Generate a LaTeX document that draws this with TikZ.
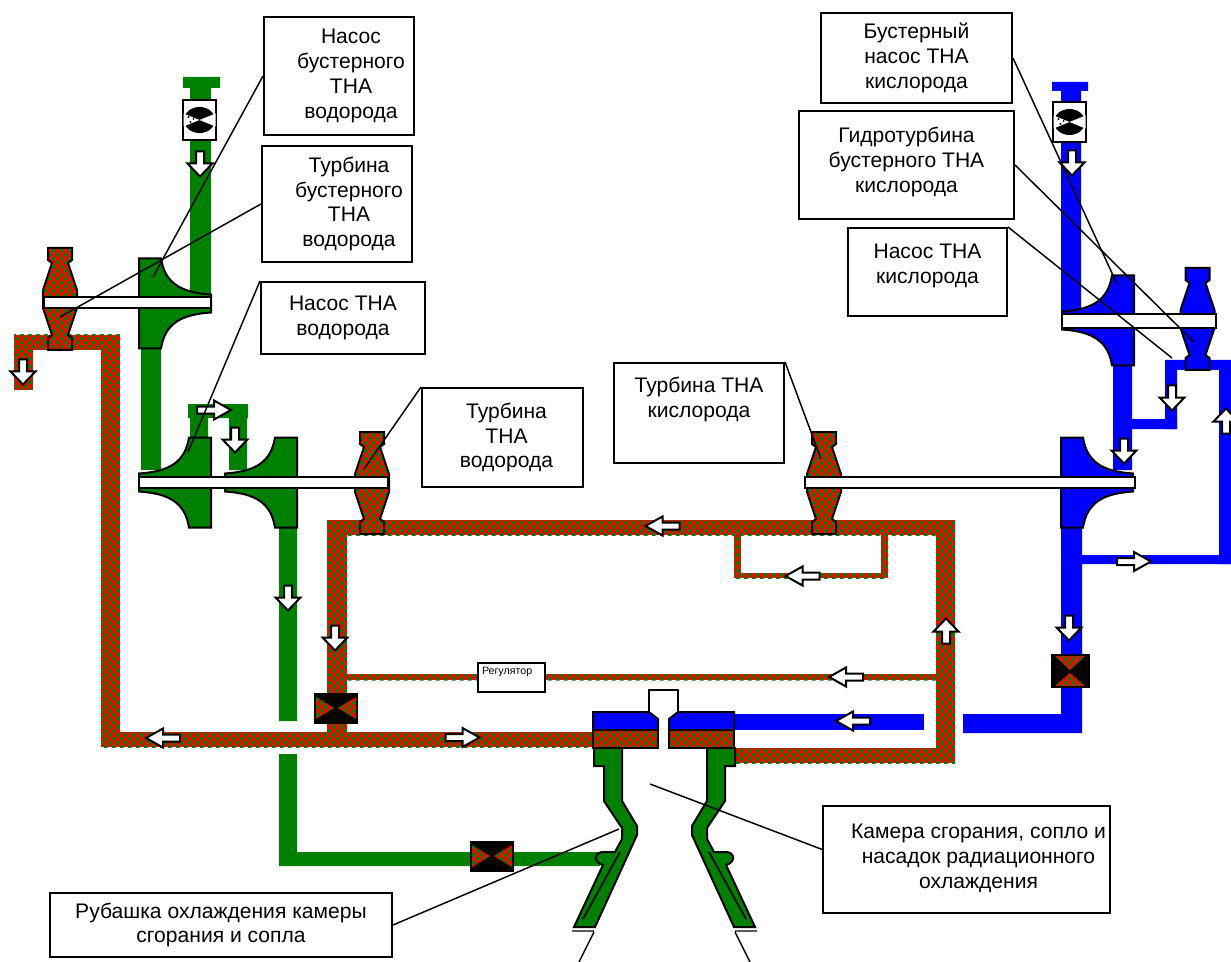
\documentclass[tikz,border=0pt]{standalone}
\usepackage{fontspec}
\setmainfont{Liberation Sans}
\usepackage{xcolor}
\definecolor{fuelgreen}{RGB}{0,128,0}
\definecolor{oxblue}{RGB}{0,0,255}
\definecolor{gasred}{RGB}{255,0,0}
\newcommand{\shiftline}{\hspace*{18pt}}
\newcommand{\nozzlepath}{(-12,0)--(12,0)--(12,12)--(8,15)--(17,42)--(17,60)--(8,87)--(12,90)--(12,102)--(-12,102)--(-12,90)--(-8,87)--(-17,60)--(-17,42)--(-8,15)--(-12,12)--cycle}
\newcommand{\hotgrid}[4]{%
  \fill[gasred] (#1,#2) rectangle (#3,#4);
  \pgfmathtruncatemacro{\mlo}{floor(#1/8)-1}
  \pgfmathtruncatemacro{\mhi}{floor(#3/8)}
  \pgfmathtruncatemacro{\nlo}{floor(#2/8)-1}
  \pgfmathtruncatemacro{\nhi}{floor(#4/8)}
  \fill[fuelgreen] \foreach \m in {\mlo,...,\mhi} {\foreach \n in {\nlo,...,\nhi} {
    (8*\m,8*\n+1) rectangle ++(3.5,3.5) (8*\m+4,8*\n+5) rectangle ++(3.5,3.5)}};
}
\newcommand{\hotbox}[4]{\begin{scope}\clip (#1,#2) rectangle (#3,#4); \hotgrid{#1}{#2}{#3}{#4}\end{scope}}

\begin{document}
\begin{tikzpicture}[x=0.75pt, y=-0.75pt, every node/.style={font=\fontsize{15.8}{18.6}\selectfont}]
\tikzset{fuel/.style={fill=fuelgreen}}
\tikzset{ox/.style={fill=oxblue}}
\tikzset{part/.style={draw, line width=1.5pt}}
\tikzset{shaftbar/.style={draw, line width=1.5pt, fill=white}}
\tikzset{info/.style={draw, line width=1.5pt, fill=white, align=center, inner sep=0pt}}
\tikzset{size/.style 2 args={minimum width=#1*0.75pt, minimum height=#2*0.75pt}}
\tikzset{leader/.style={draw, line width=1.1pt}}
\tikzset{nozzle/.pic={\path[pic actions] \nozzlepath;}}
\tikzset{hotnozzle/.pic={\begin{scope}\clip \nozzlepath; \hotgrid{-17}{0}{17}{102}\end{scope} \draw[line width=1.5pt] \nozzlepath;}}
\tikzset{wheel/.pic={\path[pic actions] (0,-9) .. controls (30,-11) and (46,-20) .. (50,-45) -- (72,-45) -- (72,45) -- (50,45) .. controls (46,20) and (30,11) .. (0,9) -- cycle;}}
\tikzset{flow/.pic={\draw[line width=1.5pt, fill=white] (-12.5,-4)--(-0.5,-4)--(-0.5,-12.5)--(12.5,0)--(-0.5,12.5)--(-0.5,4)--(-12.5,4)--cycle;}}
\tikzset{sideflow/.pic={\draw[line width=1.5pt, fill=white] (-17,-3.5)--(0,-3.5)--(0,-9.5)--(17,0)--(0,9.5)--(0,3.5)--(-17,3.5)--cycle;}}
\tikzset{shutoff/.pic={\fill (-22,-15.5) rectangle (22,15.5);
  \begin{scope}\clip (-20,-11)--(-2,0)--(-20,11)--cycle (20,-11)--(2,0)--(20,11)--cycle; \hotgrid{-20}{-11}{20}{11}\end{scope}}}
\tikzset{inlet/.pic={\draw[line width=1.5pt, fill=white] (-16.5,-20) rectangle (16.5,20);
  \fill (0,0) ellipse [x radius=15.5, y radius=13];
  \fill[white] (0,0)--(-16,-6.5)--(-16,6.5)--cycle (0,0)--(16,-6.5)--(16,6.5)--cycle;
  \fill (-11,-3) circle (1.2) (-9,2) circle (1.2) (-6,-1) circle (1);}}
\tikzset{jacket/.pic={\draw[part, fuel] (-70.5,748)--(-42.5,748)--(-42.5,801)--(-27.5,826)--(-27.5,835)--(-69.5,927)--(-90.5,927)--(-61.5,865) .. controls (-72,862) and (-70,852) .. (-61.5,852) -- (-49.5,852)--(-42.5,839)--(-42.5,828)--(-60.5,801)--(-60.5,766)--(-70.5,766)--cycle;
  \draw[line width=1.3pt] (-44.5,852)--(-81.5,919);
  \draw[line width=1.1pt] (-92.5,931)--(-70.5,931) (-70.5,932)--(-85.5,962);}}

\useasboundingbox (0,0) rectangle (1231,962);

\fill[fuel] (183,77) rectangle (220,88) (190,88) rectangle (211,296);
\fill[fuel] (141,349) rectangle (161,470);
\fill[fuel] (188,404) rectangle (248,418) (190,418) rectangle (208,438) (229,418) rectangle (247,470);
\fill[fuel] (279,527) rectangle (297,721) (279,754) rectangle (297,866) (279,852) rectangle (600,866);

\fill[ox] (1052,82) rectangle (1088,91) (1061,91) rectangle (1081,315);
\fill[ox] (1113,366) rectangle (1132,470) (1132,419) rectangle (1177,429);
\fill[ox] (1165,360) rectangle (1177,429) (1165,360) rectangle (1231,370) (1219,360) rectangle (1231,564);
\fill[ox] (1061,528) rectangle (1082,733) (1082,555) rectangle (1231,564) (963,714) rectangle (1082,733);
\fill[ox] (735,714) rectangle (924,730);

\foreach \xa/\ya/\xb/\yb in {14/335/120/350, 14/335/33/390, 101/335/120/746, 101/732/593/747,
  327/520/347/735, 327/520/955/535, 936/520/955/763, 735/748/955/763,
  734/535/741/578, 734/573/888/578, 881/535/888/578, 347/674/936/680}
  \hotbox{\xa}{\ya}{\xb}{\yb};

\path (60,248) pic {hotnozzle};
\path (372,432) pic {hotnozzle};
\path (824,432) pic {hotnozzle};
\path (1197.5,268) pic[part, ox] {nozzle};

\path (211,303.5) pic[part, fuel, xscale=-1] {wheel};
\path (139,482.5) pic[part, fuel] {wheel};
\path (225,482.5) pic[part, fuel] {wheel};
\path (1133,482.5) pic[part, ox, xscale=-1] {wheel};
\path (1062,320.5) pic[part, ox] {wheel};

\draw[shaftbar] (44,297) rectangle (211,308);
\draw[shaftbar] (139,477) rectangle (388,488);
\draw[shaftbar] (805,477) rectangle (1135,488);
\draw[shaftbar] (1062,314) rectangle (1216,328);

\path (199.5,120) pic {inlet};
\path (1069.5,122) pic {inlet};
\path (336,708) pic {shutoff};
\path (492,856) pic {shutoff};
\fill (1051,654) rectangle (1090,688);
\begin{scope}
\clip (1055,656)--(1085,656)--(1070,670)--cycle (1055,686)--(1085,686)--(1070,673)--cycle;
\hotgrid{1055}{656}{1085}{686}
\end{scope}

\draw[line width=1.2pt] (649,712)--(649,690)--(678,690)--(678,712);
\draw[part, ox] (593,712)--(649,712)--(658,719)--(658,730)--(593,730)--cycle;
\draw[part, ox] (734,712)--(678,712)--(669,719)--(669,730)--(734,730)--cycle;
\hotbox{593}{730}{658}{748}
\hotbox{669}{730}{734}{748}
\draw[part] (593,730) rectangle (658,748);
\draw[part] (669,730) rectangle (734,748);
\path (664.5,0) pic {jacket};
\path (664.5,0) pic[xscale=-1] {jacket};

\foreach \px/\py/\rot in {200/164/-90, 23/372/-90, 235/440/-90, 288/598/-90, 335/638/-90,
  1072/163/-90, 1172/398/-90, 1124/451/-90, 1069/628/-90, 1226/421/90, 946/631/90}
  \path (\px,\py) pic[rotate=\rot] {flow};
\foreach \px/\py/\rot in {214/410/0, 462.5/737.5/0, 1134/561.5/0, 163/738/180, 662.5/526/180,
  802.5/576/180, 846/677/180, 853/721/180}
  \path (\px,\py) pic[rotate=\rot] {sideflow};

\node[info, size={150}{118}] (pumpboostH) at (339,76) {\shiftline Насос\\\shiftline бустерного\\\shiftline ТНА\\\shiftline водорода};
\node[info, size={150}{116}] (turbboostH) at (337,204) {\shiftline Турбина\\\shiftline бустерного\\\shiftline ТНА\\\shiftline водорода};
\node[info, size={164}{72}] (pumpH) at (343,318) {Насос ТНА\\водорода};
\node[info, size={161}{99}] (turbH) at (502.5,437.5) {\hspace*{6pt}Турбина\\\hspace*{6pt}ТНА\\\hspace*{6pt}водорода};
\node[info, size={170}{100}] (turbO) at (699,413) {Турбина ТНА\\кислорода\\[5.5pt]\mbox{}};
\node[info, size={191}{90}] (pumpboostO) at (916.5,58) {Бустерный\\насос ТНА\\кислорода};
\node[info, size={215}{108}] (turbboostO) at (906.5,165) {Гидротурбина\\бустерного ТНА\\кислорода\\[-11pt]\mbox{}};
\node[info, size={159}{88}] (pumpO) at (927.5,272) {Насос ТНА\\кислорода\\[-5.8pt]\mbox{}};
\node[info, size={287}{107}] (chamber) at (966.5,859.5) {\shiftline Камера сгорания, сопло и\\\shiftline насадок радиационного\\\shiftline охлаждения\\[-13.6pt]\mbox{}};
\node[info, size={342}{64}] (jacketbox) at (221,925) {Рубашка охлаждения камеры\\сгорания и сопла};
\node[info, size={67}{29}, align=left, text width=59*0.75pt, font=\fontsize{8}{10}\selectfont] (regulator) at (511.5,677.5) {Регулятор\\\mbox{}};

\coordinate (e1) at (153,277);
\coordinate (e2) at (60,317);
\coordinate (e3) at (188,452);
\coordinate (e4) at (364,469);
\coordinate (e5) at (821,459);
\coordinate (e6) at (1117,284);
\coordinate (e7) at (1194,342);
\coordinate (e8) at (1172,358);
\coordinate (e9) at (650,784);
\coordinate (e10) at (619,829);
\draw[leader] (pumpboostH.west)--(e1);
\draw[leader] (turbboostH.west)--(e2);
\draw[leader] (pumpH.north west)--(e3);
\draw[leader] (turbH.north west)--(e4);
\draw[leader] (turbO.north east)--(e5);
\draw[leader] (pumpboostO.east)--(e6);
\draw[leader] (turbboostO.east)--(e7);
\draw[leader] (pumpO.north east)--(e8);
\draw[leader] (chamber.176)--(e9);
\draw[leader] (jacketbox.east)--(e10);
\end{tikzpicture}
\end{document}
